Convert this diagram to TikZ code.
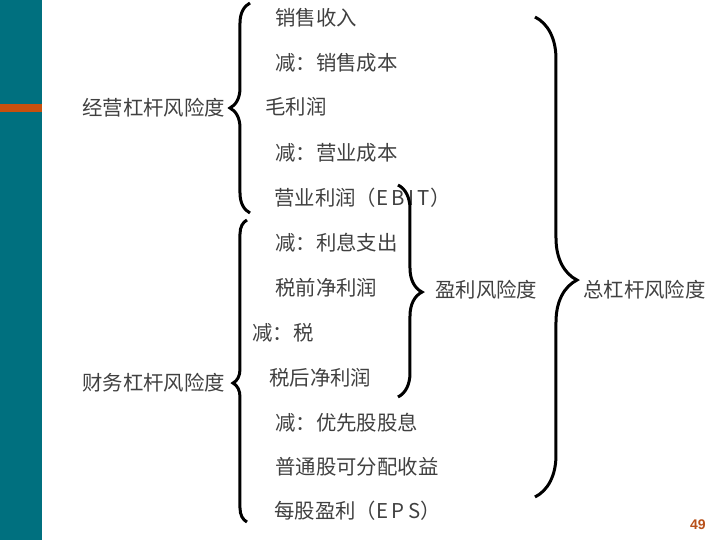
\documentclass[tikz,border=0pt]{standalone}
\usepackage{fontspec}
\setmainfont{Noto Sans CJK SC}
\newfontfamily\numfont{Liberation Sans}
\usepackage{tikz}
\usetikzlibrary{decorations.pathreplacing}
\usepackage{xcolor}
\definecolor{slidebar}{HTML}{00707F}
\definecolor{slidemark}{HTML}{C8500E}
\definecolor{pagenum}{HTML}{B8501A}
\definecolor{itemtext}{HTML}{404040}

\begin{document}
\begin{tikzpicture}[
    x=0.5pt, y=-0.5pt,
    item/.style={anchor=west, inner sep=0pt, text=itemtext, font=\fontsize{10.2}{12}\selectfont},
    curly/.style={decorate, line width=1.5pt, decoration={brace, amplitude=#1}}
]
\useasboundingbox (0,0) rectangle (720,540);
% Slide bar
\fill[slidebar] (0,0) rectangle (42,540);
\fill[slidemark] (0,104) rectangle (42,112);
% Income statement items
\node[item] (rev)   at (275,18)  {销售收入};
\node[item] (cogs)  at (275,63)  {减：销售成本};
\node[item] (gross) at (265,107) {毛利润};
\node[item] (opex)  at (275,153) {减：营业成本};
\node[item] (ebit)  at (274,198) {营业利润（E\,B\,I\,T）};
\node[item] (intr)  at (275,243) {减：利息支出};
\node[item] (ebt)   at (275,288) {税前净利润};
\node[item] (tax)   at (252,333) {减：税};
\node[item] (net)   at (269,378) {税后净利润};
\node[item] (pref)  at (275,423) {减：优先股股息};
\node[item] (comm)  at (275,467) {普通股可分配收益};
\node[item] (eps)   at (274,511) {每股盈利（E\,P\,S）};
% Risk labels
\node[item] (oper)  at (82,108)  {经营杠杆风险度};
\node[item] (fin)   at (82,383)  {财务杠杆风险度};
\node[item] (prof)  at (435,290) {盈利风险度};
\node[item] (total) at (583,290) {总杠杆风险度};
% Braces
\coordinate (opT) at (250,3);
\coordinate (opB) at (250,213);
\coordinate (fiT) at (247,220);
\coordinate (fiB) at (247,522);
\coordinate (prT) at (398,185);
\coordinate (prB) at (398,397);
\coordinate (toT) at (535,17);
\coordinate (toB) at (535,497);
\draw[curly=10pt, decoration={aspect=0.5}] (opB) -- (opT);
\draw[curly=7pt, decoration={aspect=0.46}] (fiB) -- (fiT);
\draw[curly=12pt, decoration={aspect=0.505}] (prT) -- (prB);
\draw[curly=21pt, decoration={aspect=0.548}] (toT) -- (toB);
% Page number
\node[text=pagenum, font=\numfont\bfseries\fontsize{7}{8}\selectfont, inner sep=0pt] (page) at (698,525) {49};
\end{tikzpicture}
\end{document}
